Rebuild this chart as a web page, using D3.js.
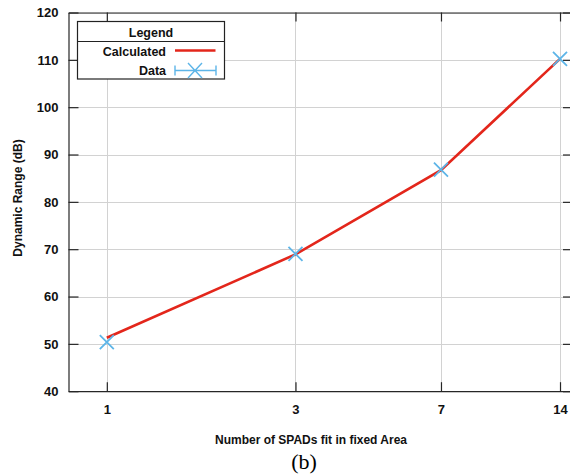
<!DOCTYPE html>
<html>
<head>
<meta charset="utf-8">
<script src="https://cdn.jsdelivr.net/npm/d3@7"></script>
<style>
  body { margin: 0; background: #fff; }
  svg { display: block; }
  text { font-family: Arial, "Liberation Sans", sans-serif; }
</style>
</head>
<body>
<script>
const xCategories = [1, 3, 7, 14];
const xTickLabels = ["1", "3", "7", "14"];
const calculatedValues = [51.3, 68.9, 86.7, 110.2];
const dataValues = [50.35, 69.0, 86.8, 110.2];
const yTicks = [40, 50, 60, 70, 80, 90, 100, 110, 120];

const W = 570, H = 475;
const margin = { left: 68.5, top: 12.5, right: -3, bottom: 84 };
const svg = d3.select("body").append("svg").attr("width", W).attr("height", H);

const x = d3.scaleLog().domain([0.8, 15.1]).range([margin.left, W - margin.right]);
const y = d3.scaleLinear().domain([40, 120]).range([H - margin.bottom + 0.2, margin.top]);

const g = svg.append("g");

// grid
g.selectAll(".vgrid").data(xCategories).join("line")
  .attr("x1", d => Math.round(x(d)) + 0.5).attr("x2", d => Math.round(x(d)) + 0.5)
  .attr("y1", y(40)).attr("y2", y(120))
  .attr("stroke", "#d2d2d2").attr("stroke-width", 1);
g.selectAll(".hgrid").data(yTicks).join("line")
  .attr("x1", x(0.8)).attr("x2", x(15.1))
  .attr("y1", d => Math.round(y(d)) + 0.5).attr("y2", d => Math.round(y(d)) + 0.5)
  .attr("stroke", "#d2d2d2").attr("stroke-width", 1);

// axes
const xAxis = d3.axisBottom(x).tickValues(xCategories).tickFormat((d, i) => xTickLabels[i])
  .tickSizeInner(-9).tickSizeOuter(0).tickPadding(14);
const gx = svg.append("g").attr("transform", `translate(0,${y(40)})`).call(xAxis);
gx.select(".domain").attr("stroke", "#262626").attr("stroke-width", 1.2);
gx.selectAll(".tick line").attr("stroke", "#262626").attr("stroke-width", 1.2);
gx.selectAll("text").attr("font-size", 13).attr("font-weight", "bold").attr("fill", "#111");

const yAxis = d3.axisLeft(y).tickValues(yTicks).tickSizeInner(-10).tickSizeOuter(0).tickPadding(10);
const gy = svg.append("g").attr("transform", `translate(${x(0.8)},0)`).call(yAxis);
gy.select(".domain").attr("stroke", "#262626").attr("stroke-width", 1.2);
gy.selectAll(".tick line").attr("stroke", "#262626").attr("stroke-width", 1.2);
gy.selectAll("text").attr("font-size", 13).attr("font-weight", "bold").attr("fill", "#111");

const yAxisR = d3.axisRight(y).tickValues(yTicks).tickSizeInner(-10).tickSizeOuter(0).tickFormat("");
const gyr = svg.append("g").attr("transform", `translate(${x(15.1)},0)`).call(yAxisR);
gyr.select(".domain").attr("stroke", "#262626").attr("stroke-width", 1.2);
gyr.selectAll(".tick line").attr("stroke", "#262626").attr("stroke-width", 1.2);

const xAxisT = d3.axisTop(x).tickValues(xCategories).tickFormat("").tickSizeInner(-9).tickSizeOuter(0);
const gxt = svg.append("g").attr("transform", `translate(0,${y(120)})`).call(xAxisT);
gxt.select(".domain").attr("stroke", "#262626").attr("stroke-width", 1.2);
gxt.selectAll(".tick line").attr("stroke", "#262626").attr("stroke-width", 1.2);

// calculated line
const line = d3.line().x((d, i) => x(xCategories[i])).y(d => y(d));
svg.append("path").datum(calculatedValues).attr("d", line)
  .attr("fill", "none").attr("stroke", "#e3261b").attr("stroke-width", 2.6);

// data markers
const blue = "#5db5e8";
const ms = 7;
svg.selectAll(".mk").data(dataValues).join("path")
  .attr("d", (d, i) => {
    const cx = x(xCategories[i]), cy = y(d);
    return `M${cx - ms},${cy - ms}L${cx + ms},${cy + ms}M${cx - ms},${cy + ms}L${cx + ms},${cy - ms}`;
  })
  .attr("stroke", blue).attr("stroke-width", 1.8).attr("fill", "none");

// legend
const lg = svg.append("g");
lg.append("rect").attr("x", 77.5).attr("y", 21.5).attr("width", 147).attr("height", 57.5)
  .attr("fill", "#fff").attr("stroke", "#222").attr("stroke-width", 1.2);
lg.append("line").attr("x1", 77.5).attr("x2", 224.5).attr("y1", 41.5).attr("y2", 41.5)
  .attr("stroke", "#222").attr("stroke-width", 1.2);
lg.append("text").attr("x", 151).attr("y", 36.5).attr("text-anchor", "middle")
  .attr("font-size", 12.5).attr("font-weight", "bold").attr("fill", "#111").text("Legend");
lg.append("text").attr("x", 166).attr("y", 55.5).attr("text-anchor", "end")
  .attr("font-size", 12.5).attr("font-weight", "bold").attr("fill", "#111").text("Calculated");
lg.append("line").attr("x1", 175).attr("x2", 215.5).attr("y1", 50.5).attr("y2", 50.5)
  .attr("stroke", "#e3261b").attr("stroke-width", 2.6);
lg.append("text").attr("x", 166).attr("y", 75).attr("text-anchor", "end")
  .attr("font-size", 12.5).attr("font-weight", "bold").attr("fill", "#111").text("Data");
lg.append("path")
  .attr("d", "M175,70.5L216,70.5M175,65.5L175,75.5M216,65.5L216,75.5M188,63L202,78M188,78L202,63")
  .attr("stroke", blue).attr("stroke-width", 1.4).attr("fill", "none");

// axis titles
svg.append("text").attr("x", 311).attr("y", 444).attr("text-anchor", "middle")
  .attr("font-size", 12).attr("font-weight", "bold").attr("fill", "#111")
  .text("Number of SPADs fit in fixed Area");
svg.append("text").attr("transform", "translate(22,198) rotate(-90)").attr("text-anchor", "middle")
  .attr("font-size", 12).attr("font-weight", "bold").attr("fill", "#111")
  .text("Dynamic Range (dB)");
svg.append("text").attr("x", 304).attr("y", 469).attr("text-anchor", "middle")
  .attr("font-size", 22).attr("fill", "#000")
  .style("font-family", "'Times New Roman', 'Liberation Serif', serif")
  .text("(b)");
</script>
</body>
</html>
